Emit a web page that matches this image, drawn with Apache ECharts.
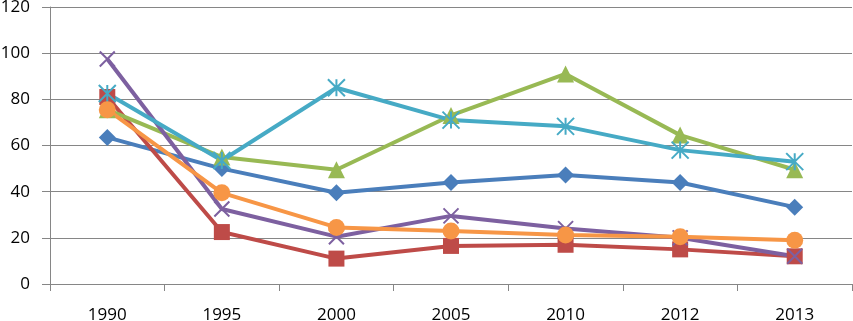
<!DOCTYPE html>
<html><head><meta charset="utf-8">
<script src="https://cdn.jsdelivr.net/npm/echarts@6/dist/echarts.min.js"></script>
<style>html,body{margin:0;padding:0;background:#fff}#c{width:853px;height:321px}</style>
</head><body><div id="c"></div>
<script>
const categories = ['1990','1995','2000','2005','2010','2012','2013'];
const blueDiamond = [63.5, 50, 39.5, 44, 47.2, 44, 33.3];
const redSquare = [81, 22.5, 11, 16.5, 17, 15, 12];
const greenTriangle = [75.5, 55, 49.5, 73, 91, 64.5, 49.5];
const purpleX = [97.5, 32.5, 20.5, 29.5, 24, 20, 12];
const cyanStar = [82.5, 53.5, 85, 71, 68.3, 58, 53];
const orangeCircle = [75.5, 39.5, 24.5, 23, 21.2, 20.5, 19];

const X_PATH = 'path://M0,0 L10,10 M10,0 L0,10';
const STAR_PATH = 'path://M0,0 L10,10 M10,0 L0,10 M5,0 L5,10';

function mk(name, data, color, symbol, size, strokeOnly){
  return {
    name, type:'line', data, symbol, symbolSize:size, showSymbol:true,
    lineStyle:{color, width:4},
    itemStyle: strokeOnly ? {color:color, borderColor:color, borderWidth:2} : {color:color, borderWidth:0},
    emphasis:{disabled:true}, z: 2
  };
}

const chart = echarts.init(document.getElementById('c'), null, {renderer:'canvas'});
chart.setOption({
  animation:false,
  backgroundColor:'#fff',
  grid:{left:50, right:1, top:7, bottom:37, containLabel:false, outerBoundsMode:'none'},
  xAxis:{
    type:'category', data:categories, boundaryGap:true,
    axisLine:{lineStyle:{color:'#868686', width:1}},
    axisTick:{show:true, length:7, lineStyle:{color:'#868686'}},
    axisLabel:{color:'#000', fontFamily:'Open Sans', fontSize:17, margin:23}
  },
  yAxis:{
    type:'value', min:0, max:120, interval:20,
    axisLine:{show:true, lineStyle:{color:'#868686', width:1}},
    axisTick:{show:true, length:8, lineStyle:{color:'#868686'}},
    splitLine:{lineStyle:{color:'#868686', width:1}},
    axisLabel:{color:'#000', fontFamily:'Open Sans', fontSize:17, margin:20}
  },
  series:[
    mk('s1', blueDiamond, '#4A7EBB', 'diamond', 17, false),
    mk('s2', redSquare, '#BE4B48', 'rect', 16, false),
    mk('s3', greenTriangle, '#98B954', 'triangle', 17, false),
    mk('s4', purpleX, '#7D60A0', X_PATH, 15, true),
    mk('s5', cyanStar, '#46AAC5', STAR_PATH, 17, true),
    mk('s6', orangeCircle, '#F79646', 'circle', 17, false)
  ]
});
</script></body></html>
